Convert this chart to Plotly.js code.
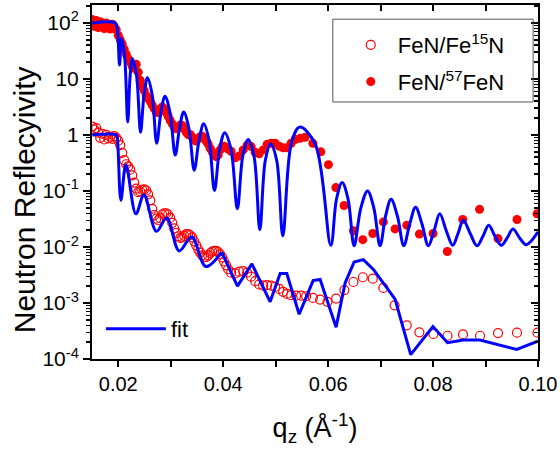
<!DOCTYPE html>
<html><head><meta charset="utf-8">
<script src="https://cdn.plot.ly/plotly-3.0.1.min.js"></script>
<style>html,body{margin:0;padding:0;background:#fff}#chart{width:560px;height:452px}</style>
</head><body><div id="chart"></div>
<script>
// FeN/Fe15N measured (open circles)
const q15N = [0.01505,0.01543,0.01581,0.01619,0.01657,0.01695,0.01733,0.01771,0.01810,0.01848,0.01886,0.01924,0.01962,0.02000,0.02038,0.02076,0.02114,0.02152,0.02190,0.02229,0.02267,0.02305,0.02343,0.02381,0.02419,0.02457,0.02495,0.02533,0.02571,0.02610,0.02648,0.02686,0.02724,0.02762,0.02800,0.02838,0.02876,0.02914,0.02952,0.02990,0.03029,0.03067,0.03105,0.03143,0.03181,0.03219,0.03257,0.03295,0.03333,0.03371,0.03410,0.03448,0.03486,0.03524,0.03562,0.03600,0.03638,0.03676,0.03714,0.03752,0.03790,0.03829,0.03867,0.03905,0.03943,0.03981,0.04019,0.04057,0.04095,
  0.04152,0.04229,0.04305,0.04381,0.04457,0.04533,0.04610,0.04686,0.04762,0.04838,0.04914,0.04990,0.05067,0.05143,0.05219,0.05295,0.05390,0.05486,0.05581,0.05709,0.05848,0.05987,0.06152,0.06310,0.06482,0.06661,0.06851,0.07053,0.07267,0.07499,0.07739,0.08006,0.08276,0.08571,0.08895,0.09238,0.09600,0.09990];
const r15N = [1.41,1.26,1.32,1.10,0.89,1.05,0.83,1.00,0.87,0.93,0.85,0.95,0.89,0.79,0.66,0.48,0.355,0.30,0.275,0.24,0.19,0.141,0.110,0.095,0.098,0.105,0.107,0.102,0.087,0.068,0.048,0.037,0.032,0.030,0.033,0.038,0.040,0.040,0.038,0.033,0.027,0.0214,0.0178,0.0155,0.0145,0.0148,0.0158,0.0170,0.0170,0.0162,0.0148,0.0126,0.0107,0.0091,0.0079,0.0071,0.0066,0.0066,0.0071,0.0078,0.0083,0.0085,0.0085,0.0081,0.0074,0.0065,0.0055,0.0047,0.0040,
  0.00347,0.00339,0.00363,0.00372,0.00347,0.00295,0.00245,0.00214,0.00204,0.00209,0.00204,0.00195,0.00178,0.00158,0.00145,0.00138,0.00135,0.00135,0.00132,0.00123,0.00115,0.00105,0.00120,0.0017,0.00237,0.00288,0.00272,0.00186,0.00091,0.00040,0.00030,0.00028,0.00026,0.000275,0.00026,0.00029,0.000295,0.000295];

// FeN/57FeN measured (filled circles)
const q57 = [0.01505,0.01543,0.01581,0.01619,0.01657,0.01695,0.01733,0.01771,0.01810,0.01848,0.01886,0.01924,0.01962,0.02000,0.02038,0.02076,0.02114,0.02152,0.02190,0.02229,0.02267,0.02305,0.02343,0.02381,0.02419,0.02457,0.02495,0.02533,0.02571,0.02610,0.02648,0.02686,0.02724,0.02762,0.02800,0.02838,0.02876,0.02914,0.02952,0.02990,0.03029,0.03067,0.03105,0.03143,0.03181,0.03219,0.03257,0.03295,0.03333,0.03371,0.03410,0.03448,0.03486,0.03524,0.03562,0.03600,0.03638,0.03676,0.03714,0.03752,0.03790,0.03829,0.03867,0.03905,0.03943,0.03981,0.04019,0.04057,0.04095,
  0.04152,0.04229,0.04305,0.04381,0.04457,0.04533,0.04610,0.04686,0.04762,0.04838,0.04914,0.04990,0.05067,0.05143,0.05219,0.05295,0.05371,
  0.05467,0.05562,0.05709,0.05861,0.06006,0.06147,0.06305,0.06482,0.06661,0.06851,0.07053,0.07276,0.07499,0.07739,0.08000,0.08272,0.08566,0.08886,0.09238,0.09600,0.09981];
const r57 = [115,87,110,83,105,91,79,100,89,78,95,85,
  76,60,50,42,34,27.5,23,20,16.6,15.5,18.2,13.2,9.5,7.4,6.2,5.0,4.5,4.0,3.4,2.95,2.57,2.51,2.88,3.16,2.95,2.51,2.14,1.82,1.58,1.38,1.29,1.35,1.51,1.48,1.29,1.12,1.02,1.02,0.91,0.81,0.78,0.85,0.93,0.95,0.87,0.78,0.69,0.575,0.50,0.45,0.41,0.44,0.54,0.62,0.63,0.60,0.56,
  0.51,0.39,0.42,0.54,0.66,0.62,0.49,0.46,0.54,0.68,0.71,0.71,0.63,0.59,0.59,0.71,0.83,
  0.87,0.91,0.71,0.50,0.295,0.115,0.055,0.0195,0.0135,0.0174,0.028,0.021,0.0245,0.017,0.0174,0.0083,0.031,0.047,0.0141,0.031,0.039];

// fit for FeN/57FeN
const qFit57 = [0.01505,0.01943,0.01981,0.02025,0.02060,0.02120,0.02181,0.02227,0.02272,0.02349,0.02425,0.02492,0.02558,0.02646,0.02733,0.02812,0.02891,0.02989,0.03086,0.03167,0.03248,0.03348,0.03448,0.03539,0.03629,0.03732,0.03834,0.03932,0.04029,0.04150,0.04270,0.04373,0.04476,0.04588,0.04699,0.04802,0.04905,0.05021,0.05137,0.05297,0.05457,0.05754,0.06051,0.06159,0.06267,0.06381,0.06495,0.06624,0.06752,0.06871,0.06990,0.07095,0.07200,0.07321,0.07442,0.07555,0.07667,0.07789,0.07910,0.08019,0.08128,0.08252,0.08375,0.08476,0.08577,0.08708,0.08838,0.08950,0.09061,0.09181,0.09301,0.09412,0.09524,0.09650,0.09777,0.10000];
const rFit57 = [100,100,79,17.8,52.5,26.3,1.70,11.5,22.9,11.5,1.12,5.25,10.5,5.25,0.71,2.45,4.9,2.45,0.437,1.29,2.57,1.29,0.234,0.79,1.58,0.79,0.102,0.55,1.10,0.55,0.048,0.417,0.83,0.417,0.0204,0.347,0.69,0.347,0.0158,0.69,1.38,0.69,0.0107,0.071,0.141,0.071,0.0105,0.050,0.100,0.050,0.0105,0.0355,0.071,0.0355,0.0105,0.0257,0.0513,0.0257,0.0105,0.0195,0.039,0.0195,0.0107,0.0174,0.030,0.0174,0.0105,0.0155,0.0245,0.0155,0.0107,0.0145,0.0209,0.0145,0.011,0.0186];

// fit for FeN/Fe15N (smooth low-q part, then coarse part)
const qFit15A = [0.01505,0.01962,0.01981,0.02051,0.02147,0.02337,0.02490,0.02728,0.02924,0.03162,0.03400,0.03670,0.03971];
const rFit15A = [1.0,1.0,0.89,0.068,0.295,0.039,0.085,0.019,0.033,0.0085,0.0151,0.00447,0.0081];
const qFit15B = [0.03971,0.04272,0.04547,0.04895,0.05086,0.05213,0.05448,0.05714,0.05848,0.06152,0.06324,0.06495,0.06672,0.06863,0.07276,0.07574,0.07998,0.08276,0.08577,0.08895,0.09594,0.10000];
const rFit15B = [0.0081,0.0020,0.0050,0.00105,0.00335,0.00335,0.00063,0.00251,0.00263,0.00037,0.00229,0.00537,0.00596,0.00398,0.00117,0.00012,0.00038,0.000195,0.000219,0.000219,0.000148,0.000209];

const xTickVals = [0.02,0.04,0.06,0.08,0.10];
const xTickText = ['0.02','0.04','0.06','0.08','0.10'];
const xMinorVals = [0.03,0.05,0.07,0.09];
const yTickVals = [1e-4,1e-3,1e-2,1e-1,1,10,100];
const yTickText = ['10<sup>-4</sup>','10<sup>-3</sup>','10<sup>-2</sup>','10<sup>-1</sup>','1','10','10<sup>2</sup>'];

const yMinor = [];
for (let d = -4; d <= 2; d++) for (let k = 2; k <= 9; k++) yMinor.push(k * Math.pow(10, d));

const RED = '#ff0000', BLUE = '#0000ff';
const X_RANGE = [0.015, 0.1], Y_RANGE = [-4, 2.32];

const traces = [
  {x: q15N, y: r15N, type: 'scatter', mode: 'markers', name: 'FeN/Fe<sup>15</sup>N',
   marker: {symbol: 'circle-open', size: 9, color: RED, line: {width: 1.2, color: RED}}, legend: 'legend'},
  {x: q57, y: r57, type: 'scatter', mode: 'markers', name: 'FeN/<sup>57</sup>FeN',
   marker: {symbol: 'circle', size: 9, color: RED}, legend: 'legend3'},
  {x: qFit57, y: rFit57, type: 'scatter', mode: 'lines', name: 'fit', showlegend: true,
   line: {color: BLUE, width: 3, shape: 'spline', smoothing: 1}, legend: 'legend2'},
  {x: qFit15A, y: rFit15A, type: 'scatter', mode: 'lines', name: 'fit', showlegend: false,
   line: {color: BLUE, width: 3, shape: 'spline', smoothing: 1}, legend: 'legend2'},
  {x: qFit15B, y: rFit15B, type: 'scatter', mode: 'lines', name: 'fit', showlegend: false,
   line: {color: BLUE, width: 3}, legend: 'legend2'},
  {x: [], y: [], xaxis: 'x2', yaxis: 'y2', type: 'scatter', mode: 'markers', showlegend: false, hoverinfo: 'skip'}
];

const axisCommon = {showgrid: false, zeroline: false, showline: true, linewidth: 2, linecolor: '#000',
  tickcolor: '#000', tickwidth: 2};

const legendCommon = {xanchor: 'left', yanchor: 'middle', borderwidth: 0,
  bgcolor: 'rgba(255,255,255,0)', font: {size: 22}};

const layout = {
  width: 560, height: 452,
  margin: {l: 92, r: 22, t: 5, b: 93},
  paper_bgcolor: '#fff', plot_bgcolor: '#fff',
  font: {family: 'Liberation Sans, Arial, sans-serif', color: '#000'},
  xaxis: Object.assign({}, axisCommon, {
    range: X_RANGE, tickmode: 'array', tickvals: xTickVals, ticktext: xTickText,
    ticks: 'outside', ticklen: 6, tickfont: {size: 20},
    minor: {tickmode: 'array', tickvals: xMinorVals, ticks: 'outside', ticklen: 6, tickwidth: 2, tickcolor: '#000'},
    title: {text: 'q<sub>z</sub> (Å<sup>-1</sup>)', font: {size: 27}, standoff: 24}
  }),
  xaxis2: Object.assign({}, axisCommon, {
    overlaying: 'x', side: 'top', range: X_RANGE, tickmode: 'array', tickvals: xTickVals,
    ticks: 'inside', ticklen: 6, showticklabels: false,
    minor: {tickmode: 'array', tickvals: xMinorVals, ticks: 'inside', ticklen: 6, tickwidth: 2, tickcolor: '#000'}
  }),
  yaxis: Object.assign({}, axisCommon, {
    type: 'log', range: Y_RANGE, tickmode: 'array', tickvals: yTickVals, ticktext: yTickText,
    ticks: 'outside', ticklen: 7, tickfont: {size: 21},
    minor: {tickmode: 'array', tickvals: yMinor, ticks: 'outside', ticklen: 4, tickwidth: 1.5, tickcolor: '#000'}
  }),
  yaxis2: Object.assign({}, axisCommon, {
    overlaying: 'y', side: 'right', type: 'log', range: Y_RANGE, tickmode: 'array', tickvals: yTickVals,
    ticks: 'inside', ticklen: 7, showticklabels: false,
    minor: {tickmode: 'array', tickvals: yMinor, ticks: 'inside', ticklen: 4, tickwidth: 1.5, tickcolor: '#000'}
  }),
  annotations: [{text: 'Neutron Reflecyivity', xref: 'paper', yref: 'paper', x: -0.152, y: 0.449,
    xanchor: 'center', yanchor: 'middle', textangle: -90, showarrow: false, font: {size: 30}}],
  legend: Object.assign({}, legendCommon, {x: 0.5645, y: 0.887, itemwidth: 44}),
  legend3: Object.assign({}, legendCommon, {x: 0.5645, y: 0.783, itemwidth: 44}),
  legend2: Object.assign({}, legendCommon, {x: 0.02, y: 0.085, itemwidth: 60}),
  shapes: [{type: 'rect', xref: 'paper', yref: 'paper', x0: 0.540, x1: 0.989, y0: 0.726, y1: 0.960,
    line: {color: '#555', width: 1}, fillcolor: 'rgba(0,0,0,0)', layer: 'above'}],
  showlegend: true
};

Plotly.newPlot('chart', traces, layout, {displayModeBar: false, staticPlot: true});
</script>
</body></html>
